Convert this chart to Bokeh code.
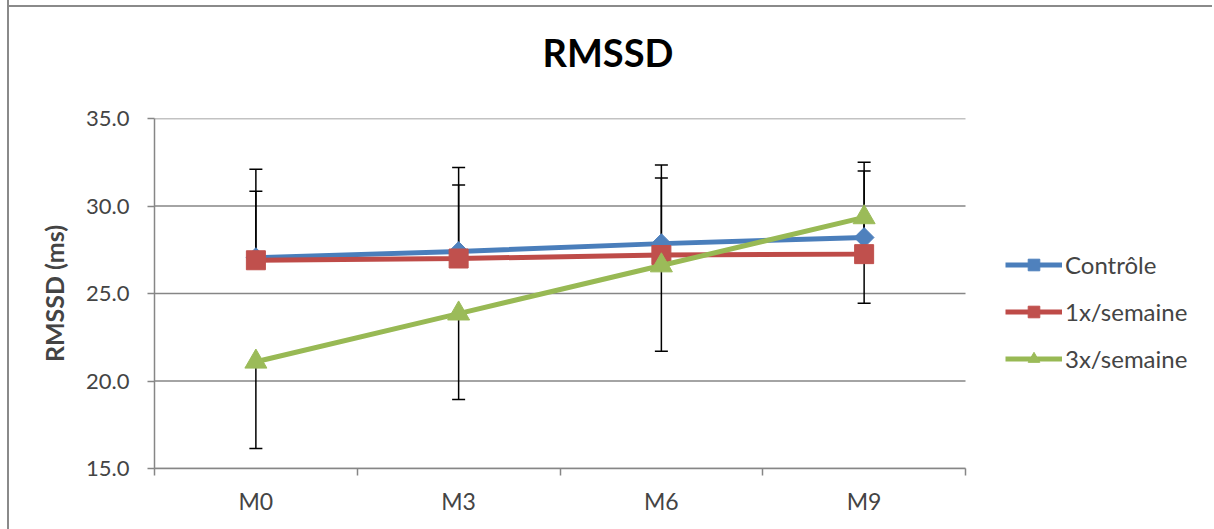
from bokeh.plotting import figure
from bokeh.models import (Range1d, FixedTicker, NumeralTickFormatter, Whisker, ColumnDataSource,
                          Legend, LegendItem, TeeHead)
from bokeh.embed import file_html
from bokeh.resources import INLINE

categories = ["M0", "M3", "M6", "M9"]
controle = [27.05, 27.4, 27.85, 28.2]
semaine1 = [26.9, 27.0, 27.2, 27.25]
semaine3 = [21.1, 23.85, 26.6, 29.35]
err_controle = [5.05, 4.8, 4.5, 4.3]
err_semaine1 = [3.95, 4.2, 4.4, 4.75]
err_semaine3 = [4.95, 4.9, 4.9, 4.9]
series_names = ["Contrôle", "1x/semaine", "3x/semaine"]
y_ticks = [15, 20, 25, 30, 35]
title_text = "RMSSD"

FONT = "Lato"
GREY = "#868686"
BLUE, RED, GREEN = "#4A7EBB", "#BE4B48", "#98B954"

n = len(categories)
xpos = [i + 0.5 for i in range(n)]          # category centres on a 0..n axis
edges = list(range(n + 1))                   # category boundaries

# layout (pixels): data area is 811 px wide, the frame also holds the legend area to its right.
# The canvas starts 22 px above the window so that the title can sit higher.
SHIFT = 22
FIG_W, FIG_H = 1205, 529 + SHIFT
LEFT, TOP, BOTTOM = 145, 118 + SHIFT, 61
DATA_W = 811
FRAME_W = FIG_W - LEFT
x_end = n * FRAME_W / DATA_W

p = figure(width=FIG_W, height=FIG_H, x_range=Range1d(0, x_end),
           y_range=Range1d(y_ticks[0], y_ticks[-1]), output_backend="svg", toolbar_location=None,
           min_border_left=LEFT, min_border_right=0,
           min_border_top=TOP, min_border_bottom=BOTTOM)
p.styles = {"border-left": "2px solid #8a8a8a",
            "margin-left": "7px", "margin-top": f"-{SHIFT}px",
            "background-color": "white",
            "background-image": "linear-gradient(#8a8a8a, #8a8a8a)",
            "background-repeat": "no-repeat",
            "background-size": "100% 2px",
            "background-position": f"0px {SHIFT + 5}px"}
p.outline_line_color = None
p.background_fill_color = "white"
p.border_fill_color = None

p.title.text = title_text
p.title.text_font = FONT
p.title.text_font_size = "38px"
p.title.text_font_style = "bold"
p.title.text_color = "black"
p.title.align = "left"
p.title.offset = 388
p.title.vertical_align = "top"
p.title.standoff = 83

p.xgrid.visible = False
p.ygrid.visible = False
# horizontal gridlines over the data area only
p.segment(x0=[0] * len(y_ticks), x1=[n] * len(y_ticks), y0=y_ticks, y1=y_ticks,
          line_color=GREY, line_width=1.5, level="image")

ya = p.yaxis[0]
ya.ticker = FixedTicker(ticks=y_ticks)
ya.formatter = NumeralTickFormatter(format="0.0")
ya.axis_line_color = GREY
ya.axis_line_width = 1.5
ya.major_tick_line_color = GREY
ya.major_tick_line_width = 1.5
ya.major_tick_out = 7
ya.major_tick_in = 0
ya.minor_tick_line_color = None
ya.major_label_text_font = FONT
ya.major_label_text_font_size = "22px"
ya.major_label_standoff = 18
ya.axis_label = "RMSSD (ms)"
ya.axis_label_text_font = FONT
ya.axis_label_text_font_size = "25px"
ya.axis_label_text_font_style = "bold"
ya.axis_label_standoff = 14

xa = p.xaxis[0]
xa.bounds = (0, n)
xa.ticker = FixedTicker(ticks=xpos, minor_ticks=edges)
xa.major_label_overrides = {x: c for x, c in zip(xpos, categories)}
xa.axis_line_color = GREY
xa.axis_line_width = 1.5
xa.major_tick_line_color = None
xa.major_tick_out = 0
xa.major_tick_in = 0
xa.minor_tick_line_color = GREY
xa.minor_tick_line_width = 1.5
xa.minor_tick_out = 7
xa.minor_tick_in = 0
xa.major_label_text_font = FONT
xa.major_label_text_font_size = "23px"
xa.major_label_standoff = 11

# error bars
def add_whisker(vals, errs, up):
    if up:
        lower = vals
        upper = [v + e for v, e in zip(vals, errs)]
    else:
        lower = [v - e for v, e in zip(vals, errs)]
        upper = vals
    src = ColumnDataSource(dict(x=xpos, lower=lower, upper=upper))
    head = TeeHead(size=13, line_color="black", line_width=1.5)
    w = Whisker(base="x", lower="lower", upper="upper", source=src, dimension="height",
                line_color="black", line_width=1.5, level="underlay",
                upper_head=head if up else None, lower_head=None if up else head)
    p.add_layout(w)

add_whisker(controle, err_controle, True)
add_whisker(semaine1, err_semaine1, True)
add_whisker(semaine3, err_semaine3, False)

items = []
l1 = p.line(xpos, controle, line_color=BLUE, line_width=5)
s1 = p.scatter(xpos, controle, marker="square", angle=0.785398, size=14,
               fill_color="#4F81BD", line_color="#4F81BD")
items.append(LegendItem(label=series_names[0], renderers=[l1, s1]))
l2 = p.line(xpos, semaine1, line_color=RED, line_width=5)
s2 = p.scatter(xpos, semaine1, marker="square", size=19, fill_color="#C0504D", line_color="#C0504D")
items.append(LegendItem(label=series_names[1], renderers=[l2, s2]))
l3 = p.line(xpos, semaine3, line_color=GREEN, line_width=5)
s3 = p.scatter(xpos, semaine3, marker="triangle", size=22, fill_color="#9BBB59", line_color="#9BBB59")
items.append(LegendItem(label=series_names[2], renderers=[l3, s3]))

legend = Legend(items=items, location=(851, 95), orientation="vertical",
                label_text_font=FONT, label_text_font_size="24px",
                glyph_width=57, glyph_height=29, label_height=29, label_standoff=3, spacing=18,
                padding=0, margin=0, border_line_color=None, background_fill_alpha=0)
p.add_layout(legend)

open("out.html", "w").write(file_html(p, INLINE))
